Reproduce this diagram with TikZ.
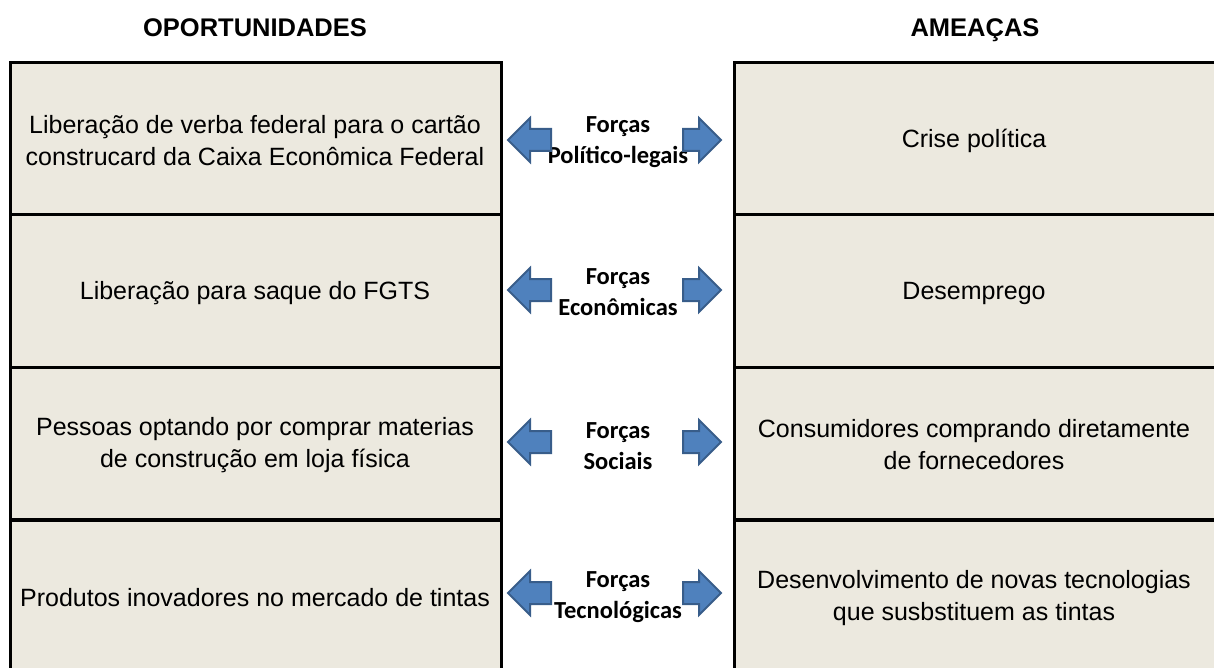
\documentclass[tikz,border=0pt]{standalone}
\usepackage{fontspec}
\setmainfont{Liberation Sans}
\newfontfamily\calib{Carlito}
\definecolor{cellbg}{HTML}{ECE9DF}
\definecolor{arrfill}{HTML}{4F81BD}
\definecolor{arrdraw}{HTML}{385D8A}
\tikzset{
  cellbox/.style={draw=black, line width=3pt, fill=cellbg},
  celltext/.style={align=center, font=\fontsize{25}{32}\selectfont},
  hdr/.style={font=\fontsize{25.5}{30}\selectfont\bfseries, anchor=base},
  force/.style={font=\fontsize{24.5}{31}\calib\bfseries, align=center},
  arr/.style={fill=arrfill, draw=arrdraw, line width=2pt, line join=miter}
}
\newcommand{\LArr}[2]{\draw[arr] (#1,#2) -- ++(22,22) -- ++(0,-11) -- ++(21,0) -- ++(0,-22) -- ++(-21,0) -- ++(0,-11) -- cycle;}
\newcommand{\RArr}[2]{\draw[arr] (#1,#2) -- ++(-22,22) -- ++(0,-11) -- ++(-16,0) -- ++(0,-22) -- ++(16,0) -- ++(0,-11) -- cycle;}
\begin{document}
\begin{tikzpicture}[x=1pt,y=-1pt]
\useasboundingbox (0,0) rectangle (1214,668);
\node[hdr] (ho) at (255,37) {OPORTUNIDADES};
\node[hdr] (ha) at (975,37) {AMEAÇAS};
\begin{scope}
\clip (0,0) rectangle (1214,668);
\foreach \y in {63,215,367}{
  \draw[cellbox] (10,\y) rectangle (501,\y+152);
  \draw[cellbox] (734,\y) rectangle (1230,\y+152);
}
\draw[cellbox] (10,520) rectangle (501,690);
\draw[cellbox] (734,520) rectangle (1230,690);
\end{scope}
\node[celltext] (o1) at (255,141) {Liberação de verba federal para o cartão\\construcard da Caixa Econômica Federal};
\node[celltext] (o2) at (255,293) {Liberação para saque do FGTS};
\node[celltext] (o3) at (255,445) {Pessoas optando por comprar materias\\de construção em loja física};
\node[celltext] (o4) at (255,598) {Produtos inovadores no mercado de tintas};
\node[celltext] (a1) at (974,141) {Crise política};
\node[celltext] (a2) at (974,293) {Desemprego};
\node[celltext] (a3) at (974,445) {Consumidores comprando diretamente\\de fornecedores};
\node[celltext] (a4) at (974,598) {Desenvolvimento de novas tecnologias\\que susbstituem as tintas};
% forces
\node[force] (f1) at (618,142) {Forças\\Político-legais};
\node[force] (f2) at (618,292) {Forças\\Econômicas};
\node[force] (f3) at (618,446) {Forças\\Sociais};
\node[force] (f4) at (618,597) {Forças\\Tecnológicas};
\LArr{508}{140}
\RArr{721}{140}
\LArr{508}{290}
\RArr{721}{290}
\LArr{508}{442}
\RArr{721}{442}
\LArr{508}{593}
\RArr{721}{593}
\end{tikzpicture}
\end{document}
